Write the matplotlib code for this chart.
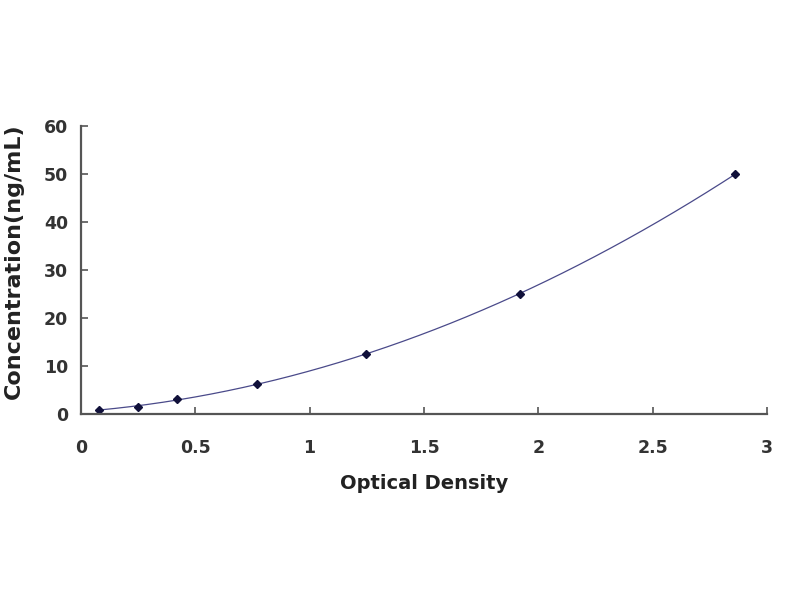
import numpy as np
import matplotlib
matplotlib.use("Agg")
import matplotlib.pyplot as plt
from matplotlib.ticker import FormatStrFormatter

# standard curve readings
od = [0.08, 0.25, 0.42, 0.77, 1.245, 1.92, 2.86]
conc = [0.78, 1.56, 3.12, 6.25, 12.5, 25, 50]
x_ticks = [0, 0.5, 1, 1.5, 2, 2.5, 3]
y_ticks = [0, 10, 20, 30, 40, 50, 60]

plt.rcParams['font.family'] = ['DejaVu Sans']

fig = plt.figure(figsize=(8, 6), dpi=100)
ax = fig.add_axes([0.101, 0.31, 0.858, 0.48])

# quadratic trend line, as in the original spreadsheet chart
coef = np.polyfit(od, conc, 2)
xs = np.linspace(min(od), max(od), 200)
ax.plot(xs, np.polyval(coef, xs), color='#4a4a8a', lw=0.9)
ax.plot(od, conc, linestyle='none', marker='D', ms=4.5, color='#10103a')

ax.set_xlim(0, 3)
ax.set_ylim(0, 60)
ax.set_xticks(x_ticks)
ax.set_yticks(y_ticks)
ax.xaxis.set_major_formatter(FormatStrFormatter('%g'))

for s in ['top', 'right']:
    ax.spines[s].set_visible(False)
for s in ['left', 'bottom']:
    ax.spines[s].set_color('#555555')
    ax.spines[s].set_linewidth(1.6)

ax.tick_params(direction='in', length=5, width=1.2, color='#555555',
               labelsize=12.5, labelcolor='#333333')
ax.tick_params(axis='x', pad=18)
ax.tick_params(axis='y', pad=9)
for lab in ax.get_xticklabels() + ax.get_yticklabels():
    lab.set_fontweight('bold')

ax.set_xlabel('Optical Density', fontsize=14, fontweight='bold', color='#222222')
ax.set_ylabel('Concentration(ng/mL)', fontsize=16, fontweight='bold', color='#222222')
ax.xaxis.set_label_coords(0.5, -0.24)
ax.xaxis.label.set_va('center')
ax.yaxis.set_label_coords(-0.098, 0.53)
ax.yaxis.label.set_va('center')

fig.savefig('out.png', dpi=100)
